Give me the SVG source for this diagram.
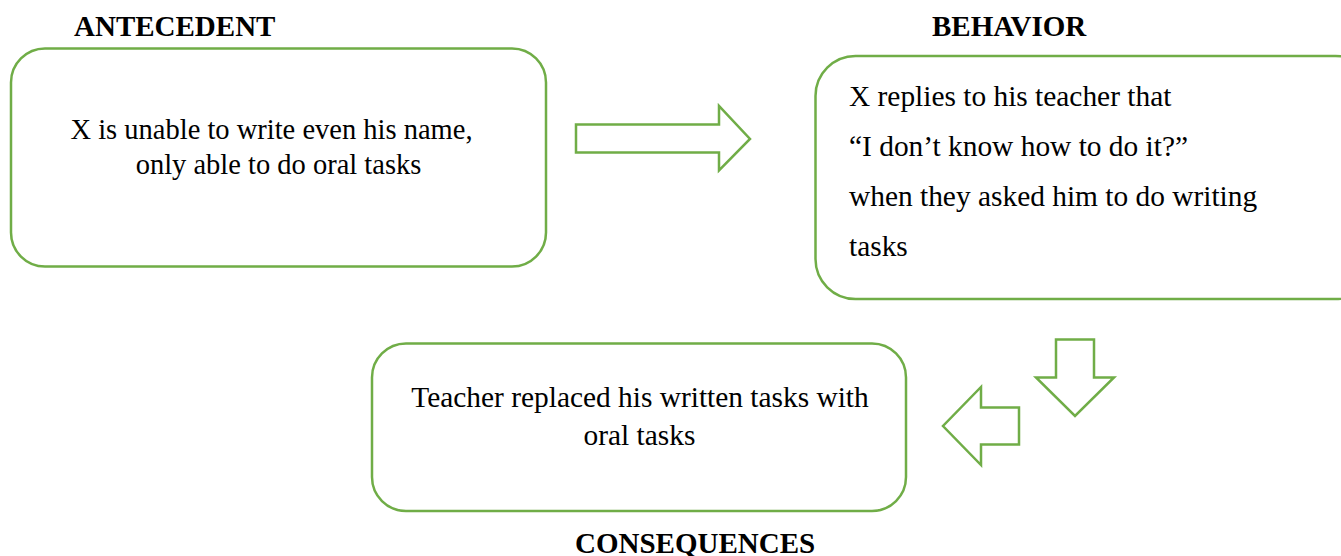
<svg xmlns="http://www.w3.org/2000/svg" width="1341" height="556" viewBox="0 0 1341 556">
<style>
.box{fill:#ffffff;stroke:#70AD47;stroke-width:2.5}
.arr{fill:#ffffff;stroke:#70AD47;stroke-width:2.5;stroke-linejoin:miter}
.hd{font-family:"Liberation Serif","Times New Roman",serif;font-weight:bold;font-size:29px;fill:#000}
.tx{font-family:"Liberation Serif","Times New Roman",serif;font-size:28.5px;fill:#000}
.tw{font-family:"Liberation Serif","Times New Roman",serif;font-size:29.4px;fill:#000}
</style>
<rect width="1341" height="556" fill="#ffffff"/>
<g id="antecedent">
<text class="hd" x="74" y="36">ANTECEDENT</text>
<rect class="box" x="11" y="48.5" width="535" height="218" rx="34" ry="34"/>
<text class="tx" x="271.5" y="139" text-anchor="middle">X is unable to write even his name,</text>
<text class="tx" x="278.5" y="173.5" text-anchor="middle">only able to do oral tasks</text>
</g>
<g id="behavior">
<text class="hd" x="932" y="36">BEHAVIOR</text>
<rect class="box" x="815.5" y="56" width="560" height="243" rx="40" ry="40"/>
<text class="tw" x="849" y="106">X replies to his teacher that</text>
<text class="tw" x="849" y="156">“I don’t know how to do it?”</text>
<text class="tw" x="849" y="206">when they asked him to do writing</text>
<text class="tw" x="849" y="256">tasks</text>
</g>
<g id="consequences">
<rect class="box" x="372" y="343.5" width="534" height="167.5" rx="34" ry="34"/>
<text class="tw" x="640" y="406.5" text-anchor="middle">Teacher replaced his written tasks with</text>
<text class="tw" x="639.5" y="445" text-anchor="middle">oral tasks</text>
<text class="hd" x="575" y="553">CONSEQUENCES</text>
</g>
<g id="connectors">
<polygon class="arr" points="576,124.5 719,124.5 719,106 750,139 719,170.5 719,152.5 576,152.5"/>
<polygon class="arr" points="1056,339.5 1094,339.5 1094,377.5 1114,377.5 1075,416 1036,377.5 1056,377.5"/>
<polygon class="arr" points="1019,407.5 1019,444.5 981,444.5 981,465 943,426 981,387 981,407.5"/>
</g>
</svg>
